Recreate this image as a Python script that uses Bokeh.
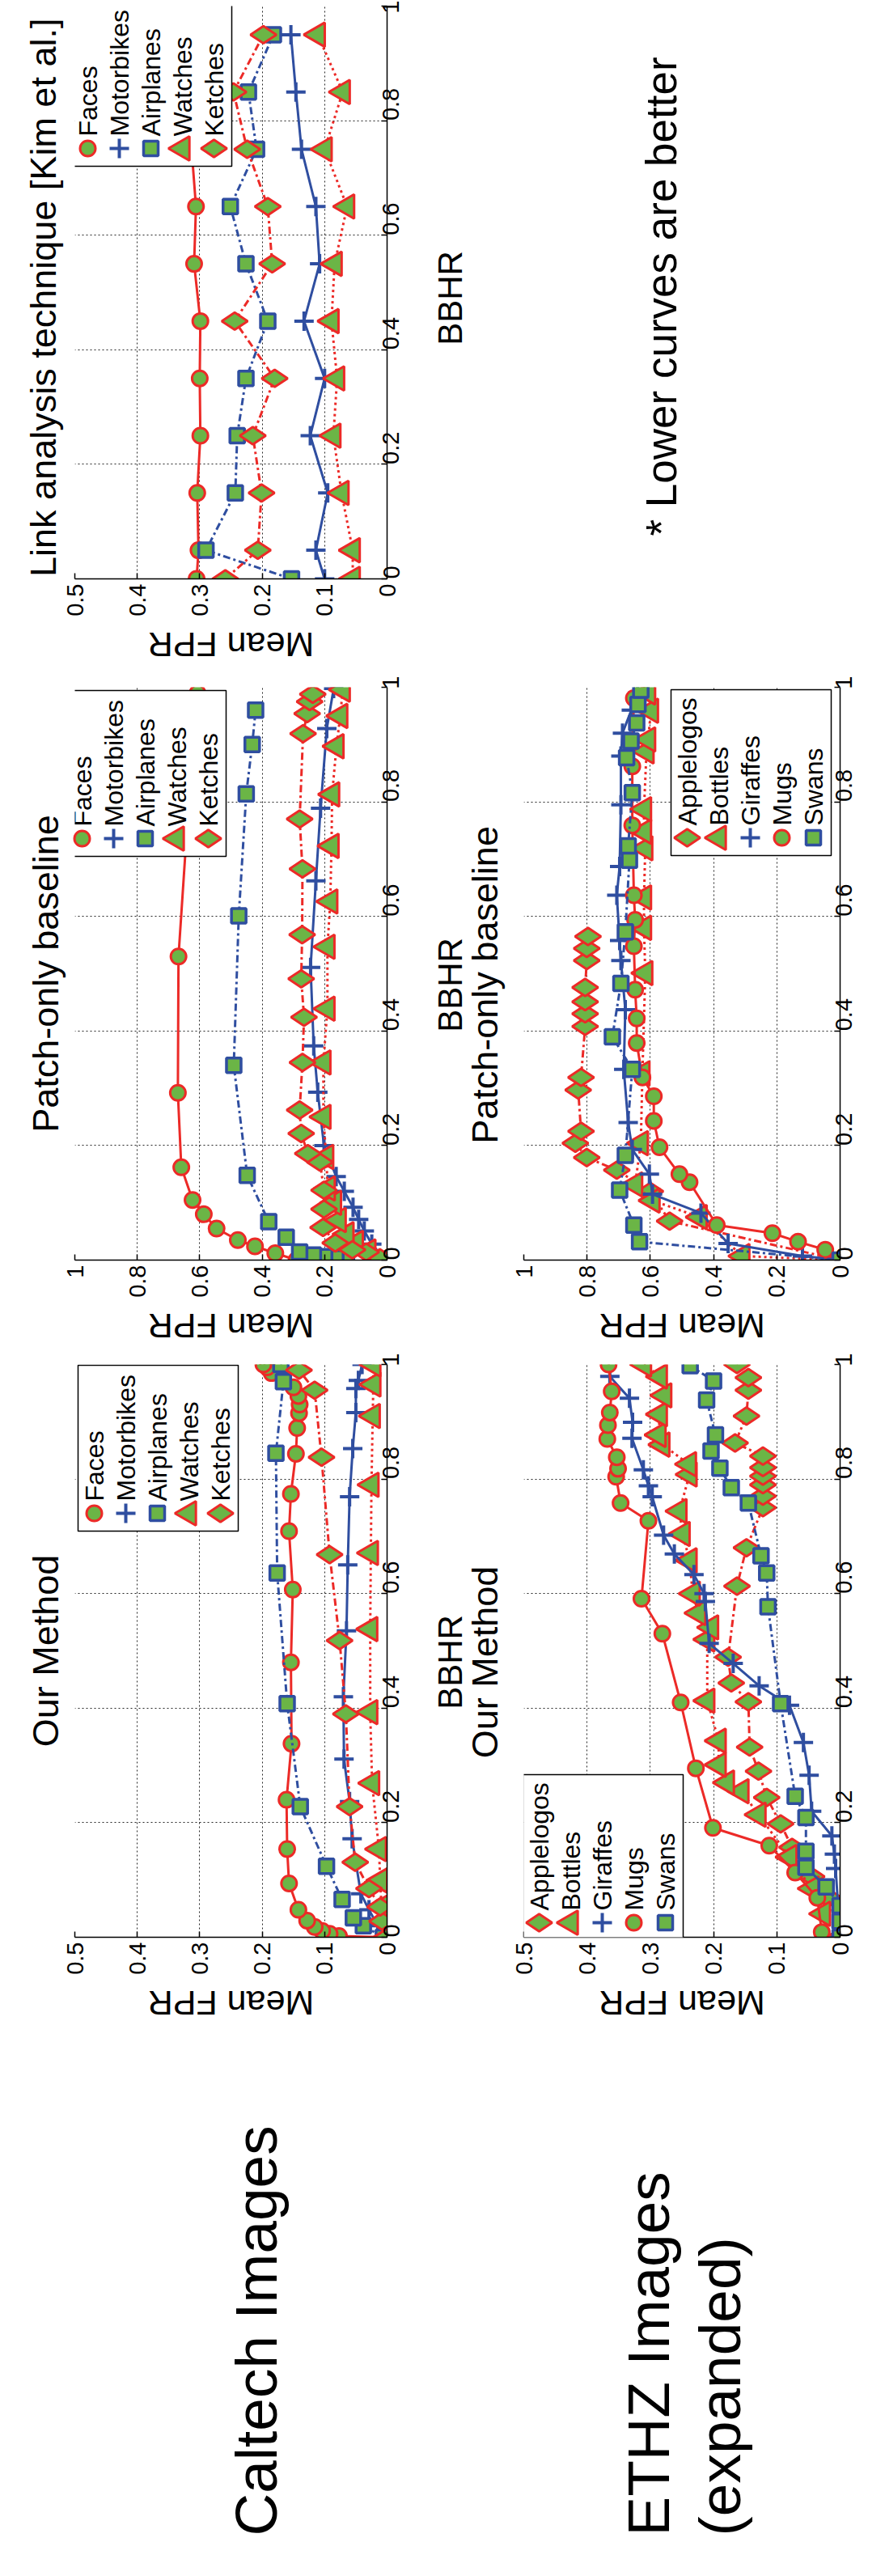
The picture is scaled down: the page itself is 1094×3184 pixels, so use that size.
import math
from bokeh.plotting import figure
from bokeh.models import Range1d, FixedTicker, Label, BoxAnnotation, ColumnDataSource, Title
from bokeh.layouts import column, row
from bokeh.embed import file_html
from bokeh.resources import INLINE

# ------------------------------------------------------------------ data
TICKS_HALF = [0, 0.1, 0.2, 0.3, 0.4, 0.5]
LABELS_HALF = ["0", "0.1", "0.2", "0.3", "0.4", "0.5"]
TICKS_ONE = [0, 0.2, 0.4, 0.6, 0.8, 1]
LABELS_ONE = ["0", "0.2", "0.4", "0.6", "0.8", "1"]

CALTECH_CLASSES = ["Faces", "Motorbikes", "Airplanes", "Watches", "Ketches"]
ETHZ_CLASSES = ["Applelogos", "Bottles", "Giraffes", "Mugs", "Swans"]

# Caltech - link analysis technique [Kim et al.]
CAL_LINK_BBHR = [0, 0.05, 0.15, 0.25, 0.35, 0.45, 0.55, 0.65, 0.75, 0.85, 0.95]
CAL_LINK_FACES = [0.305, 0.302, 0.304, 0.299, 0.300, 0.299, 0.309, 0.306, 0.313, 0.318, 0.322]
CAL_LINK_MOTORBIKES = [0.100, 0.114, 0.095, 0.123, 0.100, 0.133, 0.108, 0.114, 0.137, 0.146, 0.154]
CAL_LINK_AIRPLANES = [0.153, 0.290, 0.243, 0.240, 0.226, 0.191, 0.226, 0.251, 0.209, 0.222, 0.182]
CAL_LINK_WATCHES = [0.055, 0.055, 0.073, 0.086, 0.080, 0.089, 0.084, 0.064, 0.100, 0.071, 0.111]
CAL_LINK_KETCHES = [0.259, 0.207, 0.201, 0.215, 0.180, 0.244, 0.184, 0.191, 0.224, 0.246, 0.198]

# Caltech - patch-only baseline
CAL_PATCH_FACES_BBHR = [0.0, 0.012, 0.024, 0.035, 0.055, 0.080, 0.105, 0.162, 0.292, 0.530, 0.760, 0.990]
CAL_PATCH_FACES_FPR = [0.290, 0.358, 0.423, 0.478, 0.546, 0.587, 0.623, 0.659, 0.670, 0.668, 0.640, 0.607]
CAL_PATCH_MOTORBIKES_BBHR = [0.0, 0.028, 0.051, 0.071, 0.092, 0.120, 0.146, 0.200, 0.293, 0.374, 0.511, 0.662, 0.789, 0.928, 0.998]
CAL_PATCH_MOTORBIKES_FPR = [0.005, 0.049, 0.073, 0.091, 0.109, 0.137, 0.163, 0.202, 0.222, 0.235, 0.245, 0.228, 0.213, 0.193, 0.171]
CAL_PATCH_AIRPLANES_BBHR = [0.0, 0.004, 0.006, 0.009, 0.014, 0.040, 0.067, 0.148, 0.340, 0.601, 0.814, 0.900, 0.960]
CAL_PATCH_AIRPLANES_FPR = [0.130, 0.164, 0.200, 0.236, 0.280, 0.323, 0.379, 0.448, 0.491, 0.475, 0.451, 0.432, 0.421]
CAL_PATCH_WATCHES_BBHR = [0.0, 0.015, 0.030, 0.045, 0.070, 0.100, 0.125, 0.180, 0.250, 0.345, 0.439, 0.547, 0.626, 0.723, 0.813, 0.897, 0.950, 0.996]
CAL_PATCH_WATCHES_FPR = [0.0, 0.060, 0.100, 0.130, 0.155, 0.170, 0.190, 0.195, 0.204, 0.204, 0.191, 0.191, 0.182, 0.178, 0.176, 0.162, 0.150, 0.142]
CAL_PATCH_KETCHES_BBHR = [0.0, 0.004, 0.014, 0.018, 0.030, 0.057, 0.089, 0.122, 0.171, 0.186, 0.221, 0.262, 0.345, 0.424, 0.491, 0.568, 0.683, 0.770, 0.919, 0.954, 0.975, 0.988]
CAL_PATCH_KETCHES_FPR = [0.0, 0.023, 0.067, 0.111, 0.166, 0.205, 0.202, 0.202, 0.215, 0.254, 0.275, 0.280, 0.271, 0.266, 0.275, 0.272, 0.271, 0.280, 0.269, 0.256, 0.248, 0.238]

# Caltech - our method
CAL_OUR_FACES_BBHR = [0.0, 0.002, 0.006, 0.011, 0.018, 0.029, 0.048, 0.094, 0.154, 0.240, 0.338, 0.480, 0.607, 0.709, 0.774, 0.844, 0.889, 0.915, 0.930, 0.945, 0.960, 0.985, 0.995, 1.0]
CAL_OUR_FACES_FPR = [0.0, 0.077, 0.092, 0.104, 0.116, 0.128, 0.142, 0.157, 0.160, 0.161, 0.153, 0.154, 0.151, 0.157, 0.154, 0.146, 0.144, 0.141, 0.140, 0.142, 0.150, 0.185, 0.192, 0.198]
CAL_OUR_MOTORBIKES_BBHR = [0.0, 0.020, 0.048, 0.076, 0.172, 0.237, 0.311, 0.420, 0.535, 0.650, 0.769, 0.853, 0.916, 0.958, 0.972, 1.0]
CAL_OUR_MOTORBIKES_FPR = [0.0, 0.015, 0.029, 0.042, 0.056, 0.060, 0.069, 0.070, 0.065, 0.063, 0.060, 0.055, 0.050, 0.050, 0.046, 0.040]
CAL_OUR_AIRPLANES_BBHR = [0.0, 0.020, 0.034, 0.066, 0.124, 0.228, 0.408, 0.636, 0.845, 0.970, 1.0]
CAL_OUR_AIRPLANES_FPR = [0.006, 0.038, 0.054, 0.072, 0.097, 0.139, 0.160, 0.176, 0.178, 0.166, 0.170]
CAL_OUR_WATCHES_BBHR = [0.0, 0.053, 0.099, 0.154, 0.269, 0.393, 0.538, 0.671, 0.790, 0.910, 0.965, 1.0]
CAL_OUR_WATCHES_FPR = [0.0, 0.009, 0.011, 0.013, 0.024, 0.027, 0.027, 0.026, 0.025, 0.023, 0.022, 0.022]
CAL_OUR_KETCHES_BBHR = [0.0, 0.028, 0.053, 0.085, 0.131, 0.228, 0.390, 0.518, 0.668, 0.838, 0.955, 0.990]
CAL_OUR_KETCHES_FPR = [0.0, 0.008, 0.011, 0.029, 0.051, 0.060, 0.066, 0.076, 0.092, 0.105, 0.116, 0.141]

# ETHZ - patch-only baseline
ETHZ_PATCH_APPLELOGOS_BBHR = [0.0, 0.068, 0.120, 0.157, 0.179, 0.204, 0.225, 0.297, 0.319, 0.408, 0.430, 0.451, 0.476, 0.523, 0.544, 0.565]
ETHZ_PATCH_APPLELOGOS_FPR = [0.0, 0.539, 0.600, 0.706, 0.801, 0.837, 0.819, 0.828, 0.819, 0.806, 0.806, 0.806, 0.806, 0.801, 0.801, 0.797]
ETHZ_PATCH_BOTTLES_BBHR = [0.0, 0.007, 0.075, 0.104, 0.132, 0.204, 0.326, 0.501, 0.580, 0.633, 0.719, 0.748, 0.787, 0.888, 0.909, 0.959, 0.991]
ETHZ_PATCH_BOTTLES_FPR = [0.0, 0.309, 0.444, 0.593, 0.648, 0.630, 0.625, 0.616, 0.620, 0.620, 0.616, 0.620, 0.620, 0.612, 0.607, 0.598, 0.607]
ETHZ_PATCH_GIRAFFES_BBHR = [0.0, 0.007, 0.029, 0.082, 0.115, 0.150, 0.193, 0.240, 0.333, 0.437, 0.523, 0.558, 0.637, 0.687, 0.795, 0.880, 0.920, 0.960, 0.990]
ETHZ_PATCH_GIRAFFES_FPR = [0.0, 0.119, 0.354, 0.440, 0.593, 0.603, 0.657, 0.670, 0.684, 0.679, 0.693, 0.697, 0.706, 0.697, 0.693, 0.693, 0.688, 0.660, 0.640]
ETHZ_PATCH_MUGS_BBHR = [0.0, 0.018, 0.032, 0.047, 0.061, 0.136, 0.150, 0.197, 0.243, 0.286, 0.319, 0.379, 0.422, 0.472, 0.548, 0.594, 0.637, 0.759, 0.862, 0.981]
ETHZ_PATCH_MUGS_FPR = [0.0, 0.047, 0.133, 0.214, 0.390, 0.476, 0.508, 0.571, 0.589, 0.589, 0.625, 0.643, 0.643, 0.648, 0.652, 0.648, 0.652, 0.657, 0.657, 0.652]
ETHZ_PATCH_SWANS_BBHR = [0.0, 0.032, 0.061, 0.122, 0.183, 0.333, 0.390, 0.483, 0.573, 0.698, 0.723, 0.816, 0.877, 0.906, 0.938, 0.970, 0.995]
ETHZ_PATCH_SWANS_FPR = [0.0, 0.634, 0.652, 0.697, 0.679, 0.657, 0.720, 0.693, 0.679, 0.666, 0.670, 0.657, 0.675, 0.661, 0.643, 0.639, 0.630]

# ETHZ - our method
ETHZ_OUR_APPLELOGOS_BBHR = [0.0, 0.069, 0.106, 0.157, 0.198, 0.244, 0.290, 0.332, 0.411, 0.444, 0.489, 0.613, 0.680, 0.750, 0.770, 0.790, 0.805, 0.820, 0.840, 0.863, 0.910, 0.955, 0.977, 1.0]
ETHZ_OUR_APPLELOGOS_FPR = [0.0, 0.018, 0.045, 0.076, 0.094, 0.116, 0.129, 0.143, 0.145, 0.172, 0.177, 0.163, 0.148, 0.122, 0.122, 0.122, 0.122, 0.122, 0.122, 0.166, 0.148, 0.145, 0.145, 0.163]
ETHZ_OUR_BOTTLES_BBHR = [0.0, 0.041, 0.085, 0.140, 0.214, 0.255, 0.270, 0.301, 0.343, 0.413, 0.520, 0.541, 0.566, 0.600, 0.658, 0.704, 0.744, 0.808, 0.826, 0.860, 0.877, 0.913, 0.946, 0.979, 1.0]
ETHZ_OUR_BOTTLES_FPR = [0.0, 0.027, 0.045, 0.080, 0.129, 0.156, 0.179, 0.192, 0.192, 0.210, 0.210, 0.204, 0.224, 0.233, 0.238, 0.249, 0.254, 0.238, 0.239, 0.281, 0.287, 0.285, 0.278, 0.285, 0.310]
ETHZ_OUR_GIRAFFES_BBHR = [0.0, 0.120, 0.145, 0.177, 0.220, 0.283, 0.340, 0.405, 0.439, 0.478, 0.513, 0.586, 0.600, 0.633, 0.669, 0.702, 0.769, 0.788, 0.816, 0.871, 0.899, 0.941, 0.979]
ETHZ_OUR_GIRAFFES_FPR = [0.0, 0.007, 0.009, 0.013, 0.045, 0.049, 0.058, 0.080, 0.128, 0.169, 0.207, 0.213, 0.215, 0.231, 0.262, 0.279, 0.297, 0.303, 0.311, 0.329, 0.328, 0.333, 0.364]
ETHZ_OUR_MUGS_BBHR = [0.0, 0.009, 0.069, 0.113, 0.160, 0.191, 0.295, 0.410, 0.530, 0.591, 0.727, 0.758, 0.804, 0.818, 0.838, 0.870, 0.894, 0.916, 0.953, 1.0]
ETHZ_OUR_MUGS_FPR = [0.0, 0.029, 0.036, 0.071, 0.112, 0.201, 0.228, 0.252, 0.281, 0.314, 0.303, 0.347, 0.354, 0.351, 0.353, 0.368, 0.367, 0.364, 0.361, 0.366]
ETHZ_OUR_SWANS_BBHR = [0.0, 0.028, 0.055, 0.088, 0.122, 0.150, 0.209, 0.246, 0.408, 0.577, 0.636, 0.666, 0.758, 0.785, 0.819, 0.849, 0.877, 0.938, 0.971, 0.998]
ETHZ_OUR_SWANS_FPR = [0.0, 0.0, 0.0, 0.022, 0.054, 0.054, 0.054, 0.071, 0.094, 0.114, 0.116, 0.125, 0.145, 0.172, 0.190, 0.204, 0.197, 0.211, 0.200, 0.237]

# ------------------------------------------------------------------ style
FONT = "Liberation Sans"
RED = "#EC2A27"
BLUE = "#2F4EA0"
GREEN = "#6BB546"
DASHDOT = "9 4 3 4"
DOTTED = "3 4"

STYLE = {
    "Faces": ("circle", RED, "solid"),
    "Motorbikes": ("cross", BLUE, "solid"),
    "Airplanes": ("square", BLUE, DASHDOT),
    "Watches": ("triangle", RED, DOTTED),
    "Ketches": ("diamond", RED, DASHDOT),
    "Applelogos": ("diamond", RED, DASHDOT),
    "Bottles": ("triangle", RED, DOTTED),
    "Giraffes": ("cross", BLUE, "solid"),
    "Mugs": ("circle", RED, "solid"),
    "Swans": ("square", BLUE, DASHDOT),
}
MARKER = {
    "circle": dict(size=19, angle=0.0, line_width=3, fill=True),
    "cross": dict(size=24, angle=0.0, line_width=4, fill=False),
    "square": dict(size=18, angle=0.0, line_width=3.5, fill=True),
    "triangle": dict(size=30, angle=math.pi / 2, line_width=3, fill=True),
    "diamond": dict(size=32, angle=math.pi / 2, line_width=3, fill=True),
}

# Arial / Liberation Sans advance widths (1/1000 em), used to centre rotated labels
ADV = {"B": 667, "H": 722, "R": 722, "P": 667, "a": 556, "t": 278, "c": 500, "h": 556,
       "-": 333, "o": 556, "n": 556, "l": 222, "y": 500, " ": 278, "b": 556, "s": 500,
       "e": 556, "i": 222, "O": 778, "u": 556, "r": 333, "M": 833, "d": 556}


def text_width(s, size):
    return sum(ADV.get(c, 556) for c in s) / 1000 * size


FRAME_H = 708
LEG_W, LEG_H = 198, 205
CW, EW = 386, 391
BOTTOM = 50          # border below each panel (tick labels only)
CAL_L, CAL_R = 92, 38
MID_W = 113          # strip between the two columns: BBHR label + ETHZ titles
ETHZ_L, ETHZ_R = 18, 38
BBHR_SIZE = 42
BBHR_X, ETHZ_TITLE_X = 40, 83


def add_markers(p, xs, ys, name, level=None):
    mk, col, _ = STYLE[name]
    m = MARKER[mk]
    r = p.scatter(x=xs, y=ys, marker=mk, size=m["size"], angle=m["angle"],
                  fill_color=GREEN if m["fill"] else None, line_color=col,
                  line_width=m["line_width"])
    if level:
        r.level = level
    return r


def panel(title, xmax, ticks, tick_labels, series, frame_w, bl, br, bt,
          legend_xy, title_standoff=None):
    p = figure(frame_width=frame_w, frame_height=FRAME_H,
               x_range=Range1d(xmax, 0), y_range=Range1d(0, 1),
               x_axis_location="below", y_axis_location="right",
               min_border_left=bl, min_border_right=br,
               min_border_top=bt, min_border_bottom=BOTTOM,
               output_backend="svg", toolbar_location=None, title=None)
    p.outline_line_color = None
    p.background_fill_color = "white"
    p.border_fill_color = "white"
    for ax, tk, lb in ((p.xaxis[0], ticks, tick_labels), (p.yaxis[0], TICKS_ONE, LABELS_ONE)):
        ax.ticker = FixedTicker(ticks=tk)
        ax.major_label_overrides = {t: l for t, l in zip(tk, lb)}
        ax.major_label_orientation = math.pi / 2
        ax.major_label_text_font = FONT
        ax.major_label_text_font_size = "29px"
        ax.major_label_text_color = "black"
        ax.major_tick_in = 7
        ax.major_tick_out = 0
        ax.minor_tick_line_color = None
        ax.axis_line_color = "black"
        ax.axis_line_width = 1.5
        ax.major_tick_line_color = "black"
        ax.major_tick_line_width = 1.5
        ax.axis_label = None
    p.xaxis[0].major_label_standoff = 6
    p.yaxis[0].major_label_standoff = 5
    for g in (p.xgrid[0], p.ygrid[0]):
        g.grid_line_color = "black"
        g.grid_line_dash = "2 3"
        g.grid_line_width = 1
        g.grid_line_alpha = 0.85

    for name, bbhr, fpr in series:
        mk, col, dash = STYLE[name]
        m = MARKER[mk]
        src = ColumnDataSource(data=dict(fpr=fpr, bbhr=bbhr))
        p.line(x="fpr", y="bbhr", source=src, line_color=col, line_width=3, line_dash=dash)
        p.scatter(x="fpr", y="bbhr", source=src, marker=mk, size=m["size"], angle=m["angle"],
                  fill_color=GREEN if m["fill"] else None, line_color=col,
                  line_width=m["line_width"])

    # legend (rotated, built by hand)
    lx, ly = legend_xy
    p.add_layout(BoxAnnotation(left=lx, right=lx + LEG_W, bottom=ly, top=ly + LEG_H,
                               left_units="screen", right_units="screen",
                               bottom_units="screen", top_units="screen",
                               fill_color="white", fill_alpha=1.0,
                               line_color="black", line_width=1.5, line_alpha=1.0,
                               level="annotation"))
    for i, (name, _, _) in enumerate(series):
        sx = lx + 20 + 39 * i
        sy = ly + 22
        add_markers(p, [xmax * (1 - sx / frame_w)], [sy / FRAME_H], name, level="overlay")
        p.add_layout(Label(x=sx, y=ly + 37, x_units="screen", y_units="screen", text=name,
                           angle=math.pi / 2, text_align="left", text_baseline="middle",
                           text_font=FONT, text_font_size="32px", text_color="black",
                           level="overlay"))

    if title_standoff is not None:
        p.add_layout(Title(text=title, align="center", text_font=FONT, text_font_size="45px",
                           text_font_style="normal", text_color="black",
                           standoff=title_standoff), "left")
    return p


def blank(w, h):
    p = figure(frame_width=w, frame_height=h, x_range=Range1d(0, 1), y_range=Range1d(0, 1),
               x_axis_location=None, y_axis_location=None, min_border=0,
               output_backend="svg", toolbar_location=None, title=None)
    p.outline_line_color = None
    p.xgrid.visible = False
    p.ygrid.visible = False
    p.background_fill_color = "white"
    p.border_fill_color = "white"
    return p


def text(p, x, y, t, angle, size, align="left", baseline="alphabetic"):
    p.add_layout(Label(x=x, y=y, x_units="screen", y_units="screen", text=t, angle=angle,
                       text_align=align, text_baseline=baseline, text_font=FONT,
                       text_font_size=f"{size}px", text_color="black"))


def vertical_centered(p, x, cy, t, size):
    # text reading bottom-to-top, centred on cy, baseline at x
    text(p, x, cy - text_width(t, size) / 2, t, math.pi / 2, size)


def mean_fpr(p, cx, cy):
    # upside-down label, centred on (cx, cy)
    text(p, cx, cy, "Mean FPR", math.pi, 43, align="center", baseline="middle")


def mid_strip(h, ethz_title=None):
    s = blank(MID_W, h)
    cy = BOTTOM + FRAME_H / 2
    vertical_centered(s, BBHR_X, cy, "BBHR", BBHR_SIZE)
    if ethz_title:
        vertical_centered(s, ETHZ_TITLE_X, cy, ethz_title, 45)
    return s


CAL_W = CAL_L + CW + CAL_R
ETHZ_W = ETHZ_L + EW + ETHZ_R
TOTAL_W = CAL_W + MID_W + ETHZ_W
CAL_CX = CAL_L + CW / 2
ETHZ_CX = CAL_W + MID_W + ETHZ_L + EW / 2

# ---- row 1
cal_link = panel("Link analysis technique  [Kim et al.]", 0.5, TICKS_HALF, LABELS_HALF,
                 [("Faces", CAL_LINK_BBHR, CAL_LINK_FACES),
                  ("Motorbikes", CAL_LINK_BBHR, CAL_LINK_MOTORBIKES),
                  ("Airplanes", CAL_LINK_BBHR, CAL_LINK_AIRPLANES),
                  ("Watches", CAL_LINK_BBHR, CAL_LINK_WATCHES),
                  ("Ketches", CAL_LINK_BBHR, CAL_LINK_KETCHES)],
                 CW, CAL_L, CAL_R, 7, (-4, 510), 27)
H1 = 7 + FRAME_H + BOTTOM
note = blank(MID_W + ETHZ_W, H1)
vertical_centered(note, BBHR_X, BOTTOM + FRAME_H / 2, "BBHR", BBHR_SIZE)
text(note, 301, 110, "* Lower curves are better", math.pi / 2, 53)
strip1 = blank(TOTAL_W, 70)
mean_fpr(strip1, CAL_CX, 39)

# ---- row 2
cal_patch = panel("Patch-only baseline", 1.0, TICKS_ONE, LABELS_ONE,
                  [("Faces", CAL_PATCH_FACES_BBHR, CAL_PATCH_FACES_FPR),
                   ("Motorbikes", CAL_PATCH_MOTORBIKES_BBHR, CAL_PATCH_MOTORBIKES_FPR),
                   ("Airplanes", CAL_PATCH_AIRPLANES_BBHR, CAL_PATCH_AIRPLANES_FPR),
                   ("Watches", CAL_PATCH_WATCHES_BBHR, CAL_PATCH_WATCHES_FPR),
                   ("Ketches", CAL_PATCH_KETCHES_BBHR, CAL_PATCH_KETCHES_FPR)],
                  CW, CAL_L, CAL_R, 14, (-11, 499), 21)
ethz_patch = panel("Patch-only baseline", 1.0, TICKS_ONE, LABELS_ONE,
                   [("Applelogos", ETHZ_PATCH_APPLELOGOS_BBHR, ETHZ_PATCH_APPLELOGOS_FPR),
                    ("Bottles", ETHZ_PATCH_BOTTLES_BBHR, ETHZ_PATCH_BOTTLES_FPR),
                    ("Giraffes", ETHZ_PATCH_GIRAFFES_BBHR, ETHZ_PATCH_GIRAFFES_FPR),
                    ("Mugs", ETHZ_PATCH_MUGS_BBHR, ETHZ_PATCH_MUGS_FPR),
                    ("Swans", ETHZ_PATCH_SWANS_BBHR, ETHZ_PATCH_SWANS_FPR)],
                   EW, ETHZ_L, ETHZ_R, 14, (182, 500))
H2 = 14 + FRAME_H + BOTTOM
strip2 = blank(TOTAL_W, 65)
for cx in (CAL_CX, ETHZ_CX):
    mean_fpr(strip2, cx, 34)

# ---- row 3
cal_our = panel("Our Method", 0.5, TICKS_HALF, LABELS_HALF,
                [("Faces", CAL_OUR_FACES_BBHR, CAL_OUR_FACES_FPR),
                 ("Motorbikes", CAL_OUR_MOTORBIKES_BBHR, CAL_OUR_MOTORBIKES_FPR),
                 ("Airplanes", CAL_OUR_AIRPLANES_BBHR, CAL_OUR_AIRPLANES_FPR),
                 ("Watches", CAL_OUR_WATCHES_BBHR, CAL_OUR_WATCHES_FPR),
                 ("Ketches", CAL_OUR_KETCHES_BBHR, CAL_OUR_KETCHES_FPR)],
                CW, CAL_L, CAL_R, 14, (4, 502), 21)
ethz_our = panel("Our Method", 0.5, TICKS_HALF, LABELS_HALF,
                 [("Applelogos", ETHZ_OUR_APPLELOGOS_BBHR, ETHZ_OUR_APPLELOGOS_FPR),
                  ("Bottles", ETHZ_OUR_BOTTLES_BBHR, ETHZ_OUR_BOTTLES_FPR),
                  ("Giraffes", ETHZ_OUR_GIRAFFES_BBHR, ETHZ_OUR_GIRAFFES_FPR),
                  ("Mugs", ETHZ_OUR_MUGS_BBHR, ETHZ_OUR_MUGS_FPR),
                  ("Swans", ETHZ_OUR_SWANS_BBHR, ETHZ_OUR_SWANS_FPR)],
                 EW, ETHZ_L, ETHZ_R, 14, (-1, -4))

# ---- bottom: axis labels of row 3 + row titles
bottom = blank(TOTAL_W, 710)
for cx in (CAL_CX, ETHZ_CX):
    mean_fpr(bottom, cx, 679)
for txt, bx in (("Caltech Images", 316), ("ETHZ Images", 801), ("(expanded)", 889)):
    text(bottom, bx, 20, txt, math.pi / 2, 73)

layout = column(
    row(cal_link, note),
    strip1,
    row(cal_patch, mid_strip(H2, "Patch-only baseline"), ethz_patch),
    strip2,
    row(cal_our, mid_strip(H2, "Our Method"), ethz_our),
    bottom,
)

open("out.html", "w").write(file_html(layout, INLINE))
